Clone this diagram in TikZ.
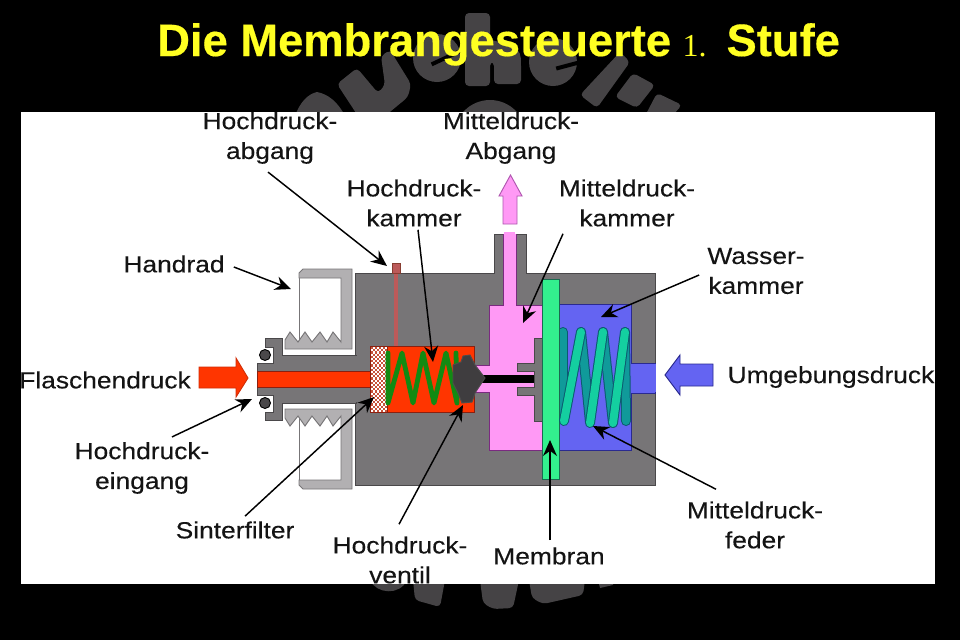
\documentclass[tikz,border=0pt]{standalone}
\usepackage{fontspec}
\usetikzlibrary{arrows.meta}
\setmainfont{Liberation Sans}
\newfontfamily\labfont[FakeStretch=1.13,FakeBold=0.25]{Liberation Sans}
\newfontfamily\titlefont[UprightFont=* Bold,FakeBold=0.4]{Liberation Sans}
\newfontfamily\serfont{Liberation Serif}
\definecolor{bodygray}{HTML}{777577}
\definecolor{edgegray}{HTML}{4A484A}
\definecolor{wheel}{HTML}{B2B0B2}
\definecolor{hot}{HTML}{FF3500}
\definecolor{hotedge}{HTML}{8A2010}
\definecolor{pinkc}{HTML}{FF99F5}
\definecolor{pinkedge}{HTML}{7A2A80}
\definecolor{bluec}{HTML}{6464F2}
\definecolor{blueedge}{HTML}{2A2A90}
\definecolor{memb}{HTML}{33F08E}
\definecolor{membedge}{HTML}{1A6A50}
\definecolor{springf}{HTML}{14CFA0}
\definecolor{springb}{HTML}{109A9A}
\definecolor{springe}{HTML}{0C5A70}
\definecolor{sgreen}{HTML}{128A12}
\definecolor{duct}{HTML}{BC5A5A}
\definecolor{wmgray}{HTML}{454345}
\definecolor{titley}{HTML}{FFFF22}
\tikzset{
  x=0.75pt,y=-0.75pt,
  lab/.style={inner sep=0pt,align=center,text=black!92,font=\labfont\fontsize{17.5}{22.4}\selectfont},
  arr/.style={draw=black,line width=1.1pt,-{Stealth[length=12pt,width=10.5pt]}},
  part/.style={line width=0.7pt,line join=miter},
  blob/.style={fill=wmgray,rounded corners=3pt},
  coil/.style={line width=0.75pt,double distance=6pt,line cap=round,draw=springe},
}
\begin{document}
\begin{tikzpicture}
\useasboundingbox (0,0) rectangle (960,640);
\fill[black] (0,0) rectangle (960,640);
% watermark shapes (letters cut by the sheet)
\fill[wmgray] (295,116) .. controls (300,102) and (308,94) .. (317,92) .. controls (328,94) and (338,102) .. (345,116) -- cycle;
\fill[blob] (337,84) -- (357,68) -- (378,93) -- (385,85) -- (381,56) -- (390,50) -- (411,84) -- (408,97) -- (385,116) -- (358,116) -- cycle;
\fill[wmgray] (437,58) circle (24);
\fill[black,rotate around={25:(440,61)}] (431,58.5) rectangle (462,62.5);
\fill[blob] (465,13) -- (490,13) -- (490,40) .. controls (500,42) and (520,44) .. (521,62) -- (521,84) -- (494,84) -- (494,62) -- (490,62) -- (490,86) -- (465,86) -- cycle;
\fill[wmgray] (553,62) circle (24);
\fill[black,rotate around={15:(562,67)}] (556,65) rectangle (582,69);
\fill[blob] (580,95) -- (620,52) -- (630,62) -- (597,108) -- cycle;
\fill[blob] (633,73) -- (655,85) -- (637,108) -- (615,97) -- cycle;
\fill[blob] (657,93) -- (682,105) -- (672,116) -- (645,116) -- cycle;
\fill[wmgray] (490,136) ellipse (36 and 36);
\fill[blob] (413,580) -- (415,600) -- (440,607) -- (445,580) -- cycle;
\fill[blob] (480,580) -- (483,603) -- (493,609) -- (513,608) -- (519,580) -- cycle;
\fill[blob] (529,580) -- (532,598) -- (543,604) -- (552,602) -- (583,595) -- (585,580) -- cycle;
\fill[wmgray] (370,580) .. controls (376,594) and (400,596) .. (407,580) -- cycle;
\fill[wmgray] (598,580) -- (600,588) -- (613,585) -- (613,580) -- cycle;
% sheet
\fill[white] (21,112) rectangle (935,584);
% title
\node[inner sep=0pt,anchor=base west,text=titley,font=\titlefont\fontsize{34}{40}\selectfont] (title) at (157,56)
  {Die Membrangesteuerte\hspace{8.5pt}{\serfont\fontsize{24}{28}\selectfont 1.}\hspace{15pt}Stufe};
% hand wheel
\path[part,fill=white,draw=bodygray] (299,275) rectangle (346,345);
\path[part,fill=wheel,draw=bodygray] (299,273) -- (303,269) -- (352,269) -- (352,349) -- (285,349) -- (285,340) -- (290,332) -- (298,342) -- (305,332) -- (312,342) -- (320,332) -- (327,342) -- (333,332) -- (341,342) -- (341,278) -- (299,278) -- cycle;
\path[part,fill=white,draw=bodygray] (299,413) rectangle (346,483);
\path[part,fill=wheel,draw=bodygray] (299,485) -- (303,489) -- (352,489) -- (352,409) -- (285,409) -- (285,418) -- (290,426) -- (298,416) -- (305,426) -- (312,416) -- (320,426) -- (327,416) -- (333,426) -- (341,416) -- (341,480) -- (299,480) -- cycle;
% body
\path[part,fill=bodygray,draw=edgegray] (355,273) -- (494,273) -- (494,234) -- (526,234) -- (526,273) -- (655,273) -- (655,485) -- (355,485) -- cycle;
\path[part,fill=bodygray,draw=edgegray] (265,338) -- (282,338) -- (282,355) -- (356,355) -- (356,403) -- (282,403) -- (282,420) -- (265,420) -- (265,412) -- (273,412) -- (273,395) -- (257,395) -- (257,363) -- (273,363) -- (273,347) -- (265,347) -- cycle;
\fill[bodygray] (350,356) rectangle (357,402);
% o-rings
\path[part,fill=edgegray,draw=black] (265,355) circle (5.5);
\path[part,fill=edgegray,draw=black] (265,403) circle (5.5);
% high pressure
\path[part,fill=hot,draw=hotedge] (257,371) rectangle (371,387);
\fill[duct] (394,273) rectangle (398,346);
\path[part,fill=duct,draw=hotedge!70!gray] (392,263) rectangle (400,273);
\path[part,fill=hot,draw=hotedge] (370,346) rectangle (474,412);
% sinter filter
\fill[white] (370.5,346.5) rectangle (387,411.5);
\foreach \i in {0,...,7} \foreach \j in {0,...,29} {
  \pgfmathtruncatemacro{\k}{mod(\i+\j,2)}
  \ifnum\k=0 \fill[hotedge!60!hot!80!white] ({371+\i*2.06},{347+\j*2.17}) rectangle ++(2.06,2.17); \fi
}
\draw[part,draw=hotedge] (370,346) rectangle (387,412);
% green spring
\draw[sgreen,line width=3.6pt,line join=round,line cap=round] (388,353) -- (388,403) -- (402,353) -- (413,403) -- (423,353) -- (434,403) -- (446,353) -- (457,403) -- (456,353);
% pink chamber
\path[part,fill=pinkc,draw=pinkedge] (503,234) -- (503,305) -- (489,305) -- (489,365) -- (474,365) -- (474,392) -- (489,392) -- (489,450) -- (542,450) -- (542,305) -- (516,305) -- (516,234);
\fill[pinkc] (504,232) rectangle (515,240);
\fill[pinkc] (472,366) rectangle (490,391);
% blue chamber
\path[part,fill=bluec,draw=blueedge] (559,304) -- (631,304) -- (631,363) -- (655,363) -- (655,393) -- (631,393) -- (631,450) -- (559,450) -- cycle;
\fill[bluec] (630,364) rectangle (656,392);
% plate, stem
\path[part,fill=bodygray,draw=edgegray] (542,338) -- (534,338) -- (534,363) -- (517,363) -- (517,371) -- (534,371) -- (534,387) -- (517,387) -- (517,395) -- (534,395) -- (534,421) -- (542,421) -- cycle;
\fill[black] (480,375) rectangle (534,383);
% valve
\path[part,fill=edgegray!85!black,draw=black!70] (453,365) -- (461,362) -- (463,356) -- (470,355) -- (475,365) -- (485,378) -- (475,393) -- (472,402) -- (462,403) -- (458,393) -- (453,383) -- cycle;
% medium spring, back
\draw[coil,double=springb] (563,332) -- (563,420);
\draw[coil,double=springb] (581,332) -- (590,422);
\draw[coil,double=springb] (603,332) -- (613,423);
\draw[coil,double=springb] (625,332) -- (626,421);
% membrane
\path[part,fill=memb,draw=membedge] (542,279) rectangle (559,479);
% medium spring, front
\draw[coil,double=springf] (564,421) -- (581,332);
\draw[coil,double=springf] (590,423) -- (603,332);
\draw[coil,double=springf] (613,423) -- (625,332);
% block arrows
\path[part,fill=hot,draw=hotedge!40!hot] (199,367) -- (236,367) -- (236,358) -- (248,378) -- (236,397) -- (236,388) -- (199,388) -- cycle;
\path[part,fill=pinkc,draw=pinkedge!60!pinkc] (503,224) -- (503,196) -- (499,196) -- (510.5,175) -- (522,196) -- (517,196) -- (517,224) -- cycle;
\path[part,fill=bluec,draw=blueedge] (713,364) -- (680,364) -- (680,355) -- (665,375) -- (680,395) -- (680,386) -- (713,386) -- cycle;
% labels
\node[lab] (labga) at (270,138) {Hochdruck-\\abgang};
\node[lab] (labma) at (511,138) {Mitteldruck-\\Abgang};
\node[lab] (labhk) at (414,203) {Hochdruck-\\kammer};
\node[lab] (labmk) at (627,203) {Mitteldruck-\\kammer};
\node[lab] (labhr) at (174,264) {Handrad};
\node[lab] (labwk) at (756,271) {Wasser-\\kammer};
\node[lab] (labfd) at (105,380) {Flaschendruck};
\node[lab] (labud) at (831,377) {Umgebungsdruck};
\node[lab] (labhe) at (142,468) {Hochdruck-\\eingang};
\node[lab] (labsf) at (235,530) {Sinterfilter};
\node[lab] (labhv) at (400,560) {Hochdruck-\\ventil};
\node[lab] (labmb) at (549,556) {Membran};
\node[lab] (labmf) at (755,525) {Mitteldruck-\\feder};
% arrow targets
\coordinate (tga) at (387,266);
\coordinate (thk) at (433,362);
\coordinate (tmk) at (523,323);
\coordinate (thr) at (291,289);
\coordinate (twk) at (601,317);
\coordinate (the) at (252,399);
\coordinate (tsf) at (374,397);
\coordinate (thv) at (463,405);
\coordinate (tmb) at (550,440);
\coordinate (tmf) at (593,426);
% connectors
\draw[arr] ([shift={(-2,8)}]labga.south) -- (tga);
\draw[arr] ([shift={(4,3)}]labhk.south) -- (thk);
\draw[arr] ([shift={(-64,7)}]labmk.south) -- (tmk);
\draw[arr] ([shift={(9,3)}]labhr.east) -- (thr);
\draw[arr] ([shift={(-8,4)}]labwk.west) -- (twk);
\draw[arr] ([shift={(30,-5)}]labhe.north) -- (the);
\draw[arr] ([shift={(10,-5)}]labsf.north) -- (tsf);
\draw[arr] ([shift={(-1,-12)}]labhv.north) -- (thv);
\draw[arr] ([shift={(1,-7)}]labmb.north) -- (tmb);
\draw[arr] ([shift={(-39,-12)}]labmf.north) -- (tmf);
\end{tikzpicture}
\end{document}
